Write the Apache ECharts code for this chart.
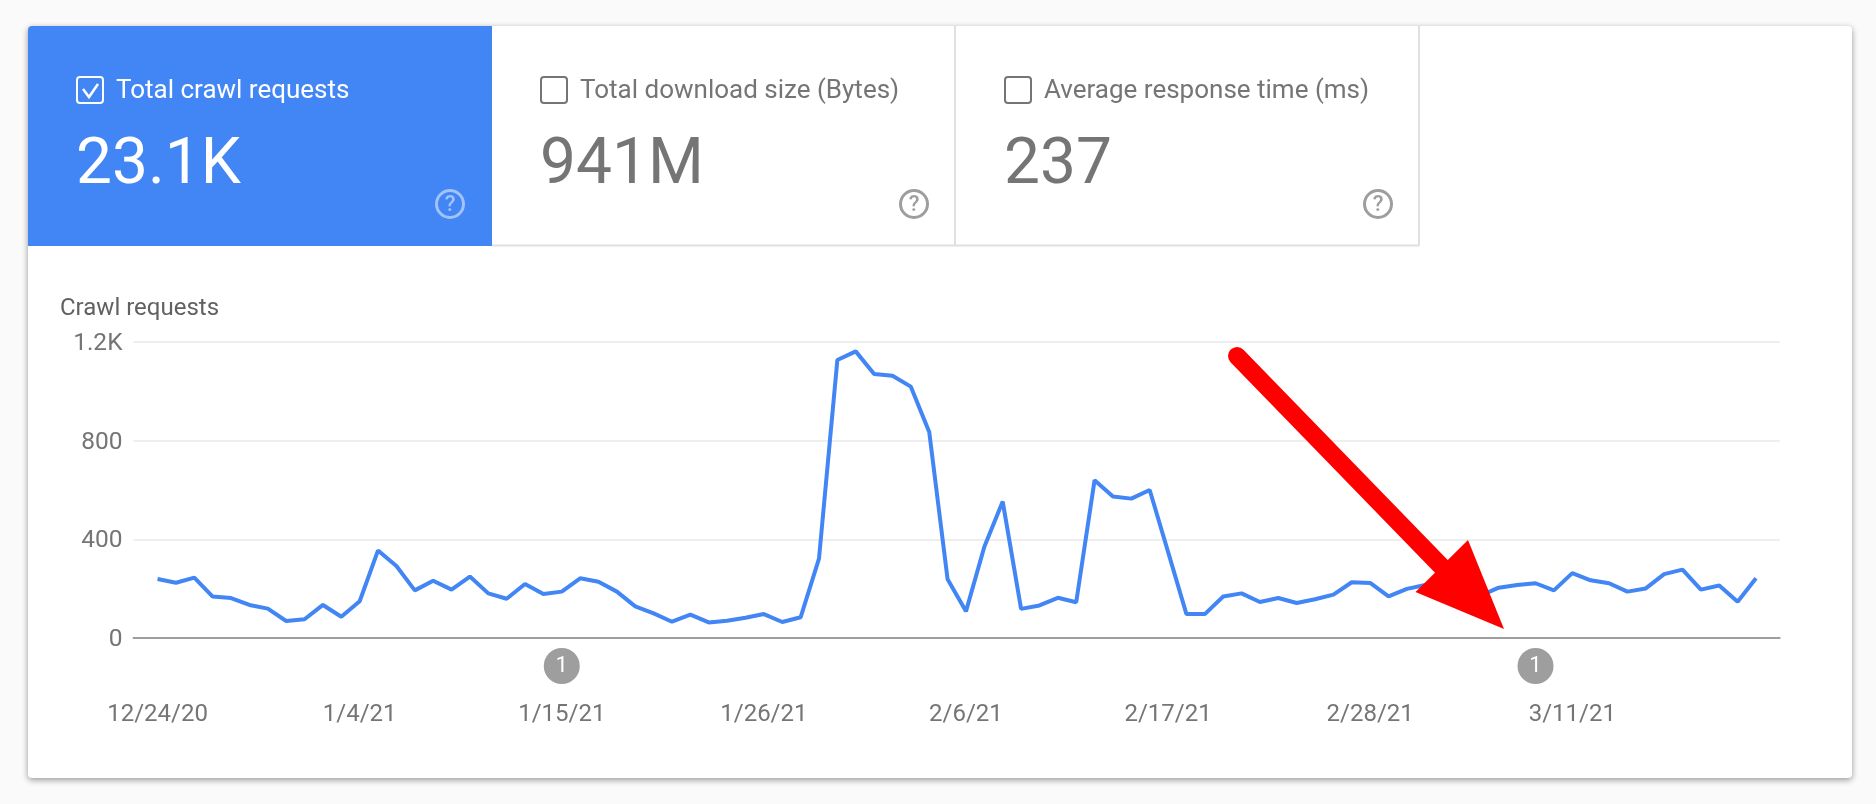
<!DOCTYPE html>
<html>
<head>
<meta charset="utf-8">
<title>Crawl requests</title>
<style>
  html, body { margin: 0; padding: 0; background: #fafafa; }
  #main { width: 1876px; height: 804px; }
</style>
<script src="https://cdn.jsdelivr.net/npm/echarts@6/dist/echarts.min.js"></script>
</head>
<body>
<div id="main"></div>
<script>
var days = [
  '12/24/20','12/25/20','12/26/20','12/27/20','12/28/20','12/29/20','12/30/20','12/31/20',
  '1/1/21','1/2/21','1/3/21','1/4/21','1/5/21','1/6/21','1/7/21','1/8/21','1/9/21','1/10/21','1/11/21','1/12/21',
  '1/13/21','1/14/21','1/15/21','1/16/21','1/17/21','1/18/21','1/19/21','1/20/21','1/21/21','1/22/21','1/23/21',
  '1/24/21','1/25/21','1/26/21','1/27/21','1/28/21','1/29/21','1/30/21','1/31/21','2/1/21','2/2/21','2/3/21',
  '2/4/21','2/5/21','2/6/21','2/7/21','2/8/21','2/9/21','2/10/21','2/11/21','2/12/21','2/13/21','2/14/21',
  '2/15/21','2/16/21','2/17/21','2/18/21','2/19/21','2/20/21','2/21/21','2/22/21','2/23/21','2/24/21','2/25/21',
  '2/26/21','2/27/21','2/28/21','3/1/21','3/2/21','3/3/21','3/4/21','3/5/21','3/6/21','3/7/21','3/8/21',
  '3/9/21','3/10/21','3/11/21','3/12/21','3/13/21','3/14/21','3/15/21','3/16/21','3/17/21','3/18/21','3/19/21',
  '3/20/21','3/21/21'
];
var crawlRequests = [
  239, 224, 245, 168, 162, 134, 119, 69, 76, 134, 86, 149, 355, 292, 193, 232, 196, 249, 181, 159,
  219, 178, 188, 242, 228, 188, 128, 100, 66, 95, 63, 70, 82, 97, 65, 84, 322, 1127, 1162, 1070,
  1063, 1019, 835, 238, 108, 370, 553, 118, 132, 163, 145, 640, 574, 565, 600, 349, 97, 97, 168, 181,
  146, 162, 142, 157, 176, 226, 223, 169, 199, 215, 218, 205, 172, 204, 215, 222, 193, 263, 234, 222,
  188, 201, 259, 277, 196, 213, 147, 242
];
var tickDays = ['12/24/20', '1/4/21', '1/15/21', '1/26/21', '2/6/21', '2/17/21', '2/28/21', '3/11/21'];
var eventDays = ['1/15/21', '3/9/21'];
var eventCounts = ['1', '1'];

var cardLabels = ['Total crawl requests', 'Total download size (Bytes)', 'Average response time (ms)'];
var cardValues = ['23.1K', '941M', '237'];

var BLUE = '#4285f4';
var GREY_TEXT = '#757575';

// tabs along the top of the white card
var tabX = [28, 492, 956];
var graphics = [
  {
    type: 'rect', z: -10, silent: true,
    shape: { x: 28, y: 26, width: 1824, height: 752, r: 4 },
    style: { fill: '#fff', shadowBlur: 6, shadowOffsetY: 2, shadowColor: 'rgba(0,0,0,0.4)' }
  },
  {
    type: 'rect', z: -9, silent: true,
    shape: { x: 28, y: 26, width: 464, height: 220, r: [4, 0, 0, 0] },
    style: { fill: BLUE }
  },
  { type: 'line', z: -9, silent: true, shape: { x1: 492, y1: 245.5, x2: 1419, y2: 245.5 }, style: { stroke: '#e0e0e0', lineWidth: 2 } },
  { type: 'line', z: -9, silent: true, shape: { x1: 955, y1: 26, x2: 955, y2: 246 }, style: { stroke: '#e0e0e0', lineWidth: 2 } },
  { type: 'line', z: -9, silent: true, shape: { x1: 1419, y1: 26, x2: 1419, y2: 246 }, style: { stroke: '#e0e0e0', lineWidth: 2 } },
  {
    type: 'text', z: 5, silent: true, x: 60, y: 309,
    style: { text: 'Crawl requests', fill: '#616161', font: '400 24px Roboto', textVerticalAlign: 'middle' }
  }
];

cardLabels.forEach(function (label, i) {
  var on = i === 0;
  var x = tabX[i] + 49;
  var textColor = on ? '#fff' : GREY_TEXT;
  graphics.push(
    {
      type: 'rect', z: 5, silent: true,
      shape: { x: x, y: 77, width: 26, height: 26, r: 3 },
      style: { fill: 'none', stroke: textColor, lineWidth: 2 }
    },
    {
      type: 'text', z: 5, silent: true, x: x + 39, y: 91,
      style: { text: label, fill: textColor, font: '400 26px Roboto', textVerticalAlign: 'middle' }
    },
    {
      type: 'text', z: 5, silent: true, x: x - 1, y: 167,
      style: { text: cardValues[i], fill: textColor, font: '400 64px Roboto', textVerticalAlign: 'middle' }
    },
    {
      type: 'circle', z: 5, silent: true,
      shape: { cx: tabX[i] + 422, cy: 204, r: 13.5 },
      style: { fill: 'none', stroke: on ? 'rgba(255,255,255,0.5)' : '#9e9e9e', lineWidth: 3 }
    },
    {
      type: 'text', z: 5, silent: true, x: tabX[i] + 422, y: 205,
      style: {
        text: '?', fill: on ? 'rgba(255,255,255,0.5)' : '#9e9e9e', font: '500 22px Roboto',
        textAlign: 'center', textVerticalAlign: 'middle'
      }
    }
  );
  if (on) {
    graphics.push({
      type: 'polyline', z: 5, silent: true,
      shape: { points: [[x + 6, 89], [x + 12, 97], [x + 21, 84]] },
      style: { fill: 'none', stroke: '#fff', lineWidth: 2.5 }
    });
  }
});

// red annotation arrow drawn over the line
graphics.push(
  {
    type: 'line', z: 50, silent: true,
    shape: { x1: 1237, y1: 356, x2: 1441, y2: 566 },
    style: { stroke: '#ff0000', lineWidth: 18, lineCap: 'round' }
  },
  {
    type: 'polygon', z: 50, silent: true,
    shape: { points: [[1504, 629], [1468, 540], [1415.5, 592]] },
    style: { fill: '#ff0000' }
  }
);

var myChart = echarts.init(document.getElementById('main'));

var option = {
  backgroundColor: '#fafafa',
  animation: false,
  textStyle: { fontFamily: 'Roboto' },
  graphic: graphics,
  grid: { left: 133.5, right: 96.3, top: 342, bottom: 166 },
  xAxis: {
    type: 'value',
    min: -1.31,
    max: 88.29,
    splitLine: { show: false },
    axisTick: { show: false },
    axisLine: { show: true, lineStyle: { color: '#9e9e9e', width: 2 } },
    axisLabel: {
      customValues: tickDays.map(function (d) { return days.indexOf(d); }),
      formatter: function (v) { return days[v]; },
      color: GREY_TEXT,
      fontSize: 24,
      margin: 65
    }
  },
  yAxis: {
    type: 'value',
    min: 0,
    max: 1200,
    interval: 400,
    axisLine: { show: false },
    axisTick: { show: false },
    splitLine: { lineStyle: { color: '#eeeeee', width: 2 } },
    axisLabel: {
      color: GREY_TEXT,
      fontSize: 24.5,
      margin: 11,
      verticalAlign: 'top',
      lineHeight: 26,
      padding: [-11, 0, 0, 0],
      formatter: function (v) { return v >= 1000 ? (v / 1000) + 'K' : v; }
    }
  },
  series: [
    {
      name: 'Crawl requests',
      type: 'line',
      data: crawlRequests.map(function (v, i) { return [i, v]; }),
      showSymbol: false,
      lineStyle: { color: BLUE, width: 4 }
    },
    {
      name: 'Events',
      type: 'scatter',
      clip: false,
      symbolSize: 36,
      symbolOffset: [0, 28],
      itemStyle: { color: '#9e9e9e', opacity: 1 },
      label: {
        show: true,
        position: 'inside',
        color: '#fff',
        fontSize: 22,
        formatter: function (p) { return eventCounts[p.dataIndex]; }
      },
      data: eventDays.map(function (d) { return [days.indexOf(d), 0]; })
    }
  ]
};

option && myChart.setOption(option);
</script>
</body>
</html>
